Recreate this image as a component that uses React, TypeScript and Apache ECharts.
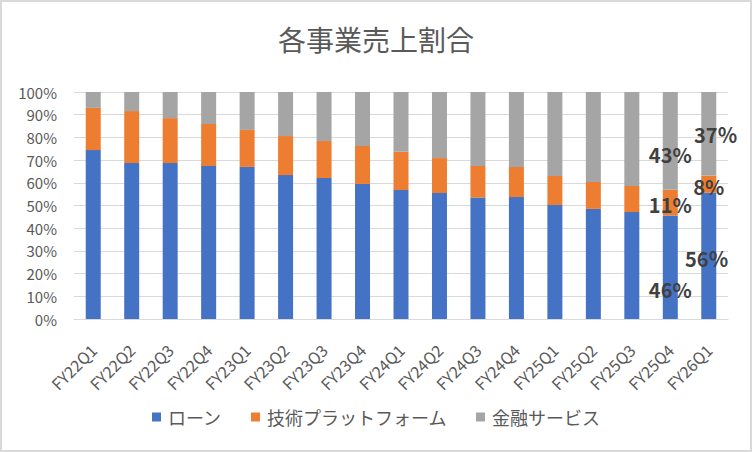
import { useEffect, useRef } from "react";
import * as echarts from "echarts";

const QUARTERS = [
    "FY22Q1", "FY22Q2", "FY22Q3", "FY22Q4",
    "FY23Q1", "FY23Q2", "FY23Q3", "FY23Q4",
    "FY24Q1", "FY24Q2", "FY24Q3", "FY24Q4",
    "FY25Q1", "FY25Q2", "FY25Q3", "FY25Q4",
    "FY26Q1",
];

// 各セグメントの構成比 (%)
const LOAN = [74.4, 68.7, 68.7, 67.4, 67.0, 63.4, 62.1, 59.5, 56.8, 55.5, 53.5, 53.7, 50.2, 48.5, 47.1, 45.6, 55.6];
const TECH = [18.6, 22.9, 19.8, 18.5, 16.3, 17.2, 16.3, 16.7, 16.9, 15.4, 13.9, 13.3, 12.8, 11.9, 11.5, 11.3, 7.6];
const FIN = [7.0, 8.4, 11.5, 14.1, 16.7, 19.4, 21.6, 23.8, 26.3, 29.1, 32.6, 33.0, 37.0, 39.6, 41.4, 43.1, 36.8];

const Y_TICKS = [0, 10, 20, 30, 40, 50, 60, 70, 80, 90, 100];

const FONT = "'Noto Sans CJK JP', 'Noto Sans', sans-serif";
const TEXT = "#595959";
const GRID_LINE = "#d9d9d9";

// 最後の2四半期だけラベル表示
const LABELLED_FROM = 15;

type LabelTweak = { offset: [number, number]; suffix: string };

function withLabels(values: number[], tweaks: LabelTweak[]) {
    return values.map((v, i) => {
        if (i < LABELLED_FROM) return v;
        const t = tweaks[i - LABELLED_FROM];
        return {
            value: v,
            label: {
                show: true,
                position: "inside" as const,
                offset: t.offset,
                formatter: () => `${Math.round(v)}${t.suffix}`,
                color: "#404040",
                fontSize: 20,
                fontWeight: "bold" as const,
                fontFamily: FONT,
            },
        };
    });
}

export default function App() {
    const ref = useRef<HTMLDivElement | null>(null);

    useEffect(() => {
        if (!ref.current) return;
        const chart = echarts.init(ref.current, undefined, { renderer: "svg" });

        const bar = (name: string, color: string, data: any[]) => ({
            name,
            type: "bar" as const,
            stack: "share",
            barWidth: 15,
            itemStyle: { color },
            data,
        });

        chart.setOption({
            animation: false,
            backgroundColor: "#ffffff",
            textStyle: { fontFamily: FONT },
            title: {
                text: "各事業売上割合",
                left: "center",
                top: 20,
                textStyle: { fontSize: 28, fontWeight: "normal", color: TEXT, fontFamily: FONT },
            },
            graphic: [
                {
                    type: "rect",
                    silent: true,
                    shape: { x: 1, y: 1, width: 750, height: 450 },
                    style: { fill: "none", stroke: GRID_LINE, lineWidth: 2 },
                },
            ],
            legend: {
                bottom: 21,
                left: "center",
                icon: "rect",
                itemWidth: 9,
                itemHeight: 9,
                itemGap: 29,
                textStyle: { color: TEXT, fontSize: 18, fontFamily: FONT, padding: [0, 0, 0, 2] },
                data: ["ローン", "技術プラットフォーム", "金融サービス"],
            },
            grid: { left: 74, right: 24, top: 92, bottom: 133 },
            xAxis: {
                type: "category",
                data: QUARTERS,
                axisLine: { lineStyle: { color: GRID_LINE } },
                axisTick: { show: false },
                axisLabel: {
                    rotate: 45,
                    margin: 28,
                    interval: 0,
                    color: TEXT,
                    fontSize: 16,
                    fontFamily: FONT,
                },
            },
            yAxis: {
                type: "value",
                min: Y_TICKS[0],
                max: Y_TICKS[Y_TICKS.length - 1],
                interval: Y_TICKS[1] - Y_TICKS[0],
                axisLine: { show: false },
                axisTick: { show: false },
                axisLabel: {
                    formatter: "{value}%",
                    color: TEXT,
                    fontSize: 15,
                    margin: 17,
                    fontFamily: FONT,
                },
                splitLine: { lineStyle: { color: GRID_LINE, width: 1 } },
            },
            series: [
                bar("ローン", "#4472c4", withLabels(LOAN, [
                    { offset: [0, 22], suffix: "%" },
                    { offset: [-2, 3], suffix: "％" },
                ])),
                bar("技術プラットフォーム", "#ed7d31", withLabels(TECH, [
                    { offset: [0, 2], suffix: "%" },
                    { offset: [0, 2], suffix: "%" },
                ])),
                bar("金融サービス", "#a5a5a5", withLabels(FIN, [
                    { offset: [0, 14], suffix: "%" },
                    { offset: [7, 1], suffix: "％" },
                ])),
            ],
        });

        return () => chart.dispose();
    }, []);

    return <div ref={ref} style={{ position: "absolute", left: 0, top: 0, width: 752, height: 452 }} />;
}
